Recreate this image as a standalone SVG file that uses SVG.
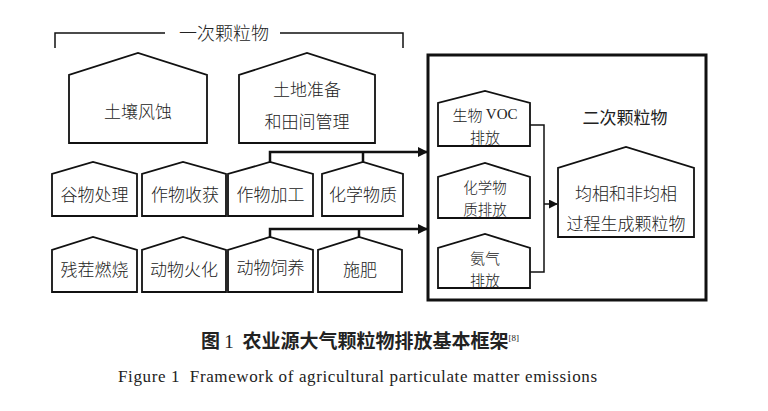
<svg xmlns="http://www.w3.org/2000/svg" width="768" height="411" viewBox="0 0 768 411">
<defs>
<style>
.h{fill:#fff;stroke:#111;stroke-width:1.8;stroke-linejoin:miter}
.t{font-family:"Noto Sans CJK SC","Noto Sans",sans-serif;font-size:17px;fill:#222;text-anchor:middle;dominant-baseline:central;font-weight:300}
.s{font-size:15px}
.c{fill:none;stroke:#111;stroke-width:2.5}
.ci{fill:none;stroke:#111;stroke-width:1.5}
</style>
<marker id="ar" viewBox="0 0 10 10" refX="9" refY="5" markerWidth="4" markerHeight="4" orient="auto" markerUnits="strokeWidth"><path d="M0,0 L10,5 L0,10 z" fill="#111"/></marker>
<marker id="ar2" viewBox="0 0 10 10" refX="9" refY="5" markerWidth="6" markerHeight="6" orient="auto" markerUnits="strokeWidth"><path d="M0,0 L10,5 L0,10 z" fill="#111"/></marker>
</defs>
<rect width="768" height="411" fill="#fff"/>

<g id="bracket">
<path d="M55,48 L55,33 L165,33 M280,33 L403,33 L403,48" fill="none" stroke="#111" stroke-width="1.5"/>
<text class="t" x="224" y="32" style="font-size:18px">一次颗粒物</text>
</g>

<g id="n-soil"><path class="h" d="M69,143 L69,75 L138,53 L207,75 L207,143 Z"/><text class="t" x="138" y="110">土壤风蚀</text></g>
<g id="n-land"><path class="h" d="M239,143 L239,75 L307,53 L375,75 L375,143 Z"/><text class="t" x="307" y="88">土地准备<tspan x="307" dy="32">和田间管理</tspan></text></g>

<g id="n-grain"><path class="h" d="M52,216 L52,174 L93,162 L137,174 L137,216 Z"/><text class="t" x="94.5" y="193">谷物处理</text></g>
<g id="n-harvest"><path class="h" d="M142,216 L142,174 L183,162 L226,174 L226,216 Z"/><text class="t" x="185" y="193">作物收获</text></g>
<g id="n-process"><path class="h" d="M228,216 L228,174 L270,162 L313,174 L313,216 Z"/><text class="t" x="270.5" y="193">作物加工</text></g>
<g id="n-chem"><path class="h" d="M322,216 L322,174 L363,162 L403,174 L403,216 Z"/><text class="t" x="363" y="193">化学物质</text></g>

<g id="n-burn"><path class="h" d="M52,292 L52,250 L93,237 L137,250 L137,292 Z"/><text class="t" x="94.5" y="268">残茬燃烧</text></g>
<g id="n-crem"><path class="h" d="M142,292 L142,250 L183,237 L226,250 L226,292 Z"/><text class="t" x="184" y="268">动物火化</text></g>
<g id="n-feed"><path class="h" d="M228,292 L228,250 L270,237 L313,250 L313,292 Z"/><text class="t" x="270.5" y="266">动物饲养</text></g>
<g id="n-fert"><path class="h" d="M318,292 L318,250 L359,237 L402,250 L402,292 Z"/><text class="t" x="360" y="268">施肥</text></g>

<g id="secondary">
<rect x="428" y="55" width="278" height="245" fill="none" stroke="#111" stroke-width="3"/>
<text class="t" x="625" y="116" style="font-weight:400">二次颗粒物</text>
</g>

<g id="n-voc"><path class="h" d="M438,146 L438,103 L485,91 L530,103 L530,146 Z"/><text class="t s" x="485" y="114">生物 <tspan font-family="Liberation Serif">VOC</tspan><tspan x="485" dy="22">排放</tspan></text></g>
<g id="n-chemem"><path class="h" d="M438,218 L438,177 L485,163 L530,177 L530,218 Z"/><text class="t s" x="485" y="186" style="font-size:14.5px">化学物<tspan x="485" dy="21.5">质排放</tspan></text></g>
<g id="n-nh3"><path class="h" d="M438,288 L438,248 L485,234 L530,248 L530,288 Z"/><text class="t s" x="485" y="257">氨气<tspan x="485" dy="22">排放</tspan></text></g>
<g id="n-form"><path class="h" d="M558,237 L558,168 L626,147 L694,168 L694,237 Z"/><text class="t" x="626" y="192">均相和非均相<tspan x="626" dy="30">过程生成颗粒物</tspan></text></g>

<g id="connectors">
<path class="c" d="M270,162 L270,152 L427,152" marker-end="url(#ar)"/>
<path class="c" d="M363,152 L363,162"/>
<path class="c" d="M270,237 L270,229 L427,229" marker-end="url(#ar)"/>
<path class="c" d="M359,229 L359,237"/>
<path class="ci" d="M530,125 L544,125 L544,272 L530,272"/>
<path class="ci" d="M544,204 L557,204" marker-end="url(#ar2)"/>
</g>

<g id="caption">
<text x="360" y="348" text-anchor="middle" font-family="Noto Sans CJK SC,sans-serif" font-size="19" font-weight="700" fill="#222">图&#160;<tspan font-family="Liberation Serif" font-weight="400">1</tspan>&#160;&#160;农业源大气颗粒物排放基本框架<tspan font-size="9" dy="-7" font-family="Liberation Serif" font-weight="400">[8]</tspan></text>
<text x="118" y="382" font-family="Liberation Serif" font-size="17" fill="#222" textLength="479" lengthAdjust="spacing">Figure 1&#160;&#160;Framework of agricultural particulate matter emissions</text>
</g>
</svg>
